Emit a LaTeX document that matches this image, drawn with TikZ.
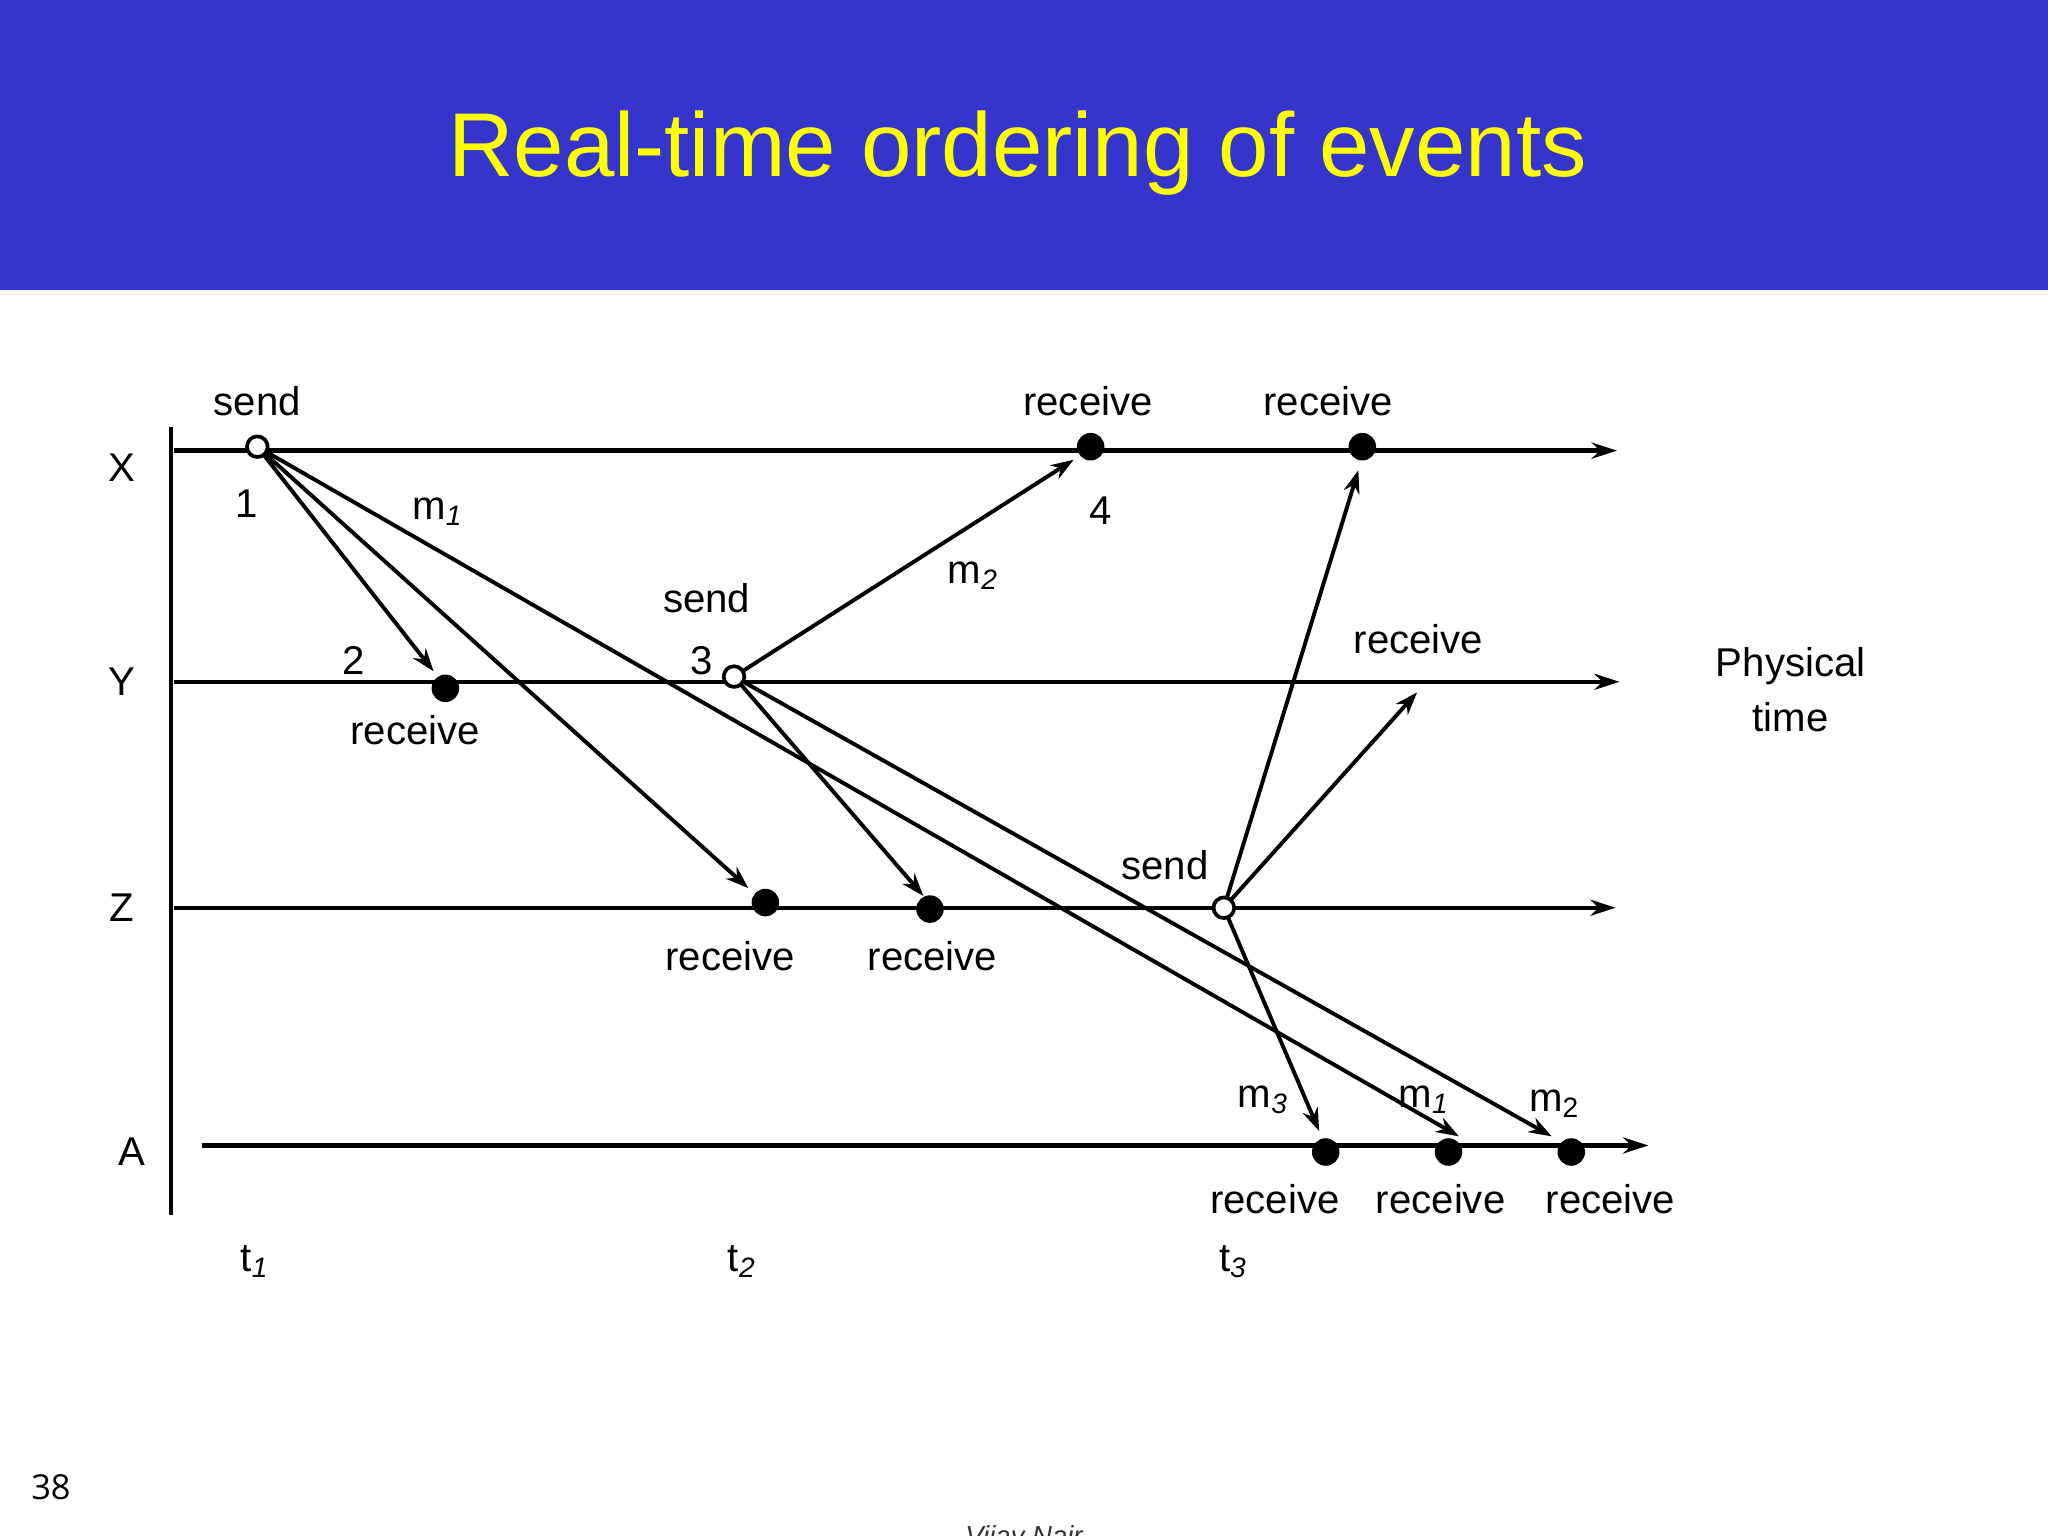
\documentclass[tikz,border=0pt]{standalone}
\usepackage{fontspec}
\setmainfont{Liberation Sans}
\newfontfamily\numfont{Open Sans}
\usetikzlibrary{arrows.meta}
\definecolor{banner}{HTML}{3535CC}
\definecolor{ttl}{HTML}{FFFF00}
\begin{document}
\begin{tikzpicture}[x=0.02cm,y=-0.02cm,
  lbl/.style={font=\fontsize{17.5}{20}\selectfont,inner sep=0pt},
  tl/.style={line width=1.9pt,-{Stealth[length=11pt,width=7pt]}},
  msg/.style={line width=1.7pt,-{Stealth[length=10pt,width=7pt]}},
  ev/.style={circle,fill=black,minimum size=12pt,inner sep=0pt},
  oev/.style={circle,draw=black,line width=1.6pt,fill=white,minimum size=9pt,inner sep=0pt}]
\useasboundingbox (0,0) rectangle (1568,1176);
\fill[white] (0,0) rectangle (1568,1176);
\fill[banner] (0,0) rectangle (1568,222);
\node[text=ttl,font=\fontsize{39.5}{46}\selectfont] (title) at (779,117) {Real-time ordering of events};
% axes
\coordinate (vt) at (131,327); \coordinate (vb) at (131,930);
\draw[line width=2pt] (vt) -- (vb);
\coordinate (xs) at (133,345); \coordinate (xe) at (1238,345);
\coordinate (ys) at (133,522); \coordinate (ye) at (1240,522);
\coordinate (zs) at (133,695); \coordinate (ze) at (1237,695);
\coordinate (as) at (155,877); \coordinate (ae) at (1262,877);
\draw[tl] (xs)--(xe); \draw[tl] (ys)--(ye); \draw[tl] (zs)--(ze); \draw[tl] (as)--(ae);
\node[lbl] (LX) at (93,358) {X};
\node[lbl] (LY) at (93,522) {Y};
\node[lbl] (LZ) at (93,695) {Z};
\node[lbl] (LA) at (101,882) {A};
% events
\node[ev] (xr1) at (835,342) {};
\node[ev] (xr2) at (1043,342) {};
\node[ev] (yr) at (341,527) {};
\node[ev] (zr1) at (586,691) {};
\node[ev] (zr2) at (712,696) {};
\node[ev] (ar1) at (1015,882) {};
\node[ev] (ar2) at (1109,882) {};
\node[ev] (ar3) at (1203,882) {};
\coordinate (ytgt) at (1085,530);
% messages
\coordinate (s1) at (197,342);
\coordinate (s3) at (562,518);
\coordinate (s5) at (937,695);
\draw[msg] (s1) -- (332,514);
\draw[msg] (s1) -- (573,680);
\draw[msg] (s1) -- (1117,870);
\draw[msg] (s3) -- (822,352);
\draw[msg] (s3) -- (707,686);
\draw[msg] (s3) -- (1188,870);
\draw[msg] (s5) -- (1040,360);
\draw[msg] (s5) -- (ytgt);
\draw[msg] (s5) -- (1010,866);
\node[oev] (xs1) at (s1) {};
\node[oev] (ys3) at (s3) {};
\node[oev] (zs5) at (s5) {};
% labels
\node[lbl] at (197,307) {send};
\node[lbl] at (189,386) {1};
\node[lbl] at (335,392) {m\textsubscript{\itshape 1}};
\node[lbl] at (833,307) {receive};
\node[lbl] at (843,391) {4};
\node[lbl] at (745,441) {m\textsubscript{\itshape 2}};
\node[lbl] at (1017,307) {receive};
\node[lbl] at (541,458) {send};
\node[lbl] at (537,506) {3};
\node[lbl] at (271,506) {2};
\node[lbl] at (318,559) {receive};
\node[lbl] at (1086,489) {receive};
\node[lbl,align=center] at (1371,528) {Physical\\[4pt]time};
\node[lbl] at (892,662) {send};
\node[lbl] at (559,732) {receive};
\node[lbl] at (714,732) {receive};
\node[lbl] at (967,842) {m\textsubscript{\itshape 3}};
\node[lbl] at (1090,842) {m\textsubscript{\itshape 1}};
\node[lbl] at (1190,845) {m\textsubscript{2}};
\node[lbl] at (976,918) {receive};
\node[lbl] at (1103,918) {receive};
\node[lbl] at (1233,918) {receive};
\node[lbl] at (195,966) {t\textsubscript{\itshape 1}};
\node[lbl] at (568,966) {t\textsubscript{\itshape 2}};
\node[lbl] at (944,966) {t\textsubscript{\itshape 3}};
\node[font=\numfont\fontsize{15}{18}\selectfont] at (39,1139) {38};
\node[font=\fontsize{12}{14}\selectfont\itshape,text=black!80] at (784,1178) {Vijay Nair};
\end{tikzpicture}
\end{document}
